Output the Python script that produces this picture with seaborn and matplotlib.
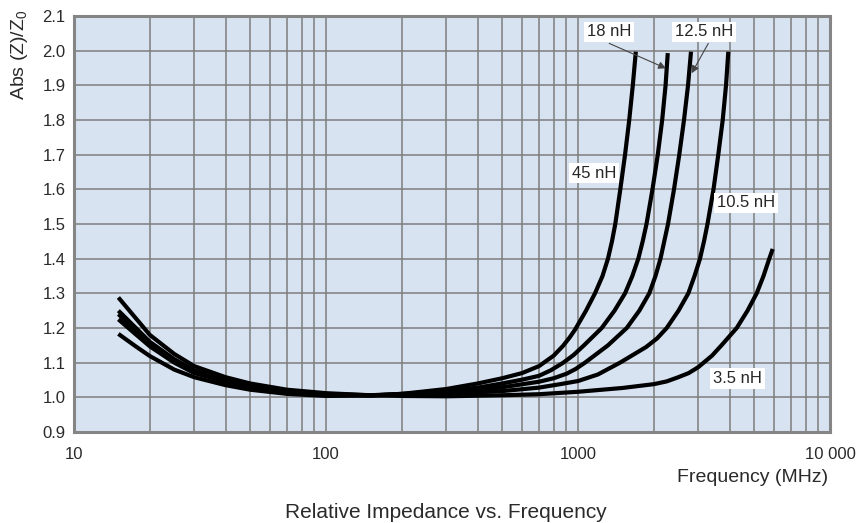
import numpy as np
import pandas as pd
import seaborn as sns
import matplotlib
matplotlib.use("Agg")
import matplotlib.pyplot as plt
from matplotlib.ticker import FixedLocator, LogLocator, NullFormatter

# -----------------------------------------------------
# data (MHz, |Z|/Z0)
# -----------------------------------------------------

freq_45 = [15, 17.5, 20, 25, 30, 40, 50, 70, 100, 150, 200, 300, 400, 500, 600, 700, 800,
           871, 925, 973, 1076, 1168, 1251, 1315, 1364, 1406, 1472, 1537, 1597, 1650, 1696]
z_45 = [1.183, 1.148, 1.119, 1.080, 1.058, 1.035, 1.022, 1.010, 1.004, 1.005, 1.010, 1.024,
        1.040, 1.055, 1.070, 1.090, 1.120, 1.148, 1.172, 1.195, 1.250, 1.300, 1.350, 1.400,
        1.450, 1.500, 1.600, 1.700, 1.800, 1.900, 1.997]

freq_18 = [15, 17.5, 20, 25, 30, 40, 50, 70, 100, 150, 200, 300, 400, 500, 600, 700, 780,
           874, 960, 1056, 1242, 1396, 1537, 1643, 1735, 1806, 1870, 1975, 2073, 2158, 2226,
           2271]
z_18 = [1.225, 1.183, 1.147, 1.100, 1.070, 1.045, 1.029, 1.014, 1.007, 1.006, 1.010, 1.018,
        1.028, 1.040, 1.051, 1.062, 1.078, 1.100, 1.122, 1.150, 1.200, 1.250, 1.300, 1.350,
        1.400, 1.450, 1.500, 1.600, 1.700, 1.800, 1.900, 1.993]

freq_12 = [15, 17.5, 20, 25, 30, 40, 50, 70, 100, 150, 200, 300, 400, 500, 700, 800, 900,
           980, 1066, 1315, 1561, 1751, 1918, 2030, 2125, 2276, 2404, 2523, 2634, 2733, 2808]
z_12 = [1.240, 1.194, 1.155, 1.106, 1.075, 1.048, 1.032, 1.016, 1.008, 1.006, 1.008, 1.013,
        1.020, 1.029, 1.045, 1.055, 1.068, 1.082, 1.100, 1.150, 1.200, 1.250, 1.300, 1.350,
        1.400, 1.500, 1.600, 1.700, 1.800, 1.900, 1.997]

freq_10 = [15, 17.5, 20, 25, 30, 40, 50, 70, 100, 150, 200, 300, 500, 700, 850, 1000, 1200,
           1468, 1862, 2060, 2249, 2505, 2740, 2900, 3049, 3162, 3265, 3449, 3603, 3752, 3867,
           3949]
z_10 = [1.250, 1.202, 1.160, 1.110, 1.078, 1.050, 1.034, 1.018, 1.009, 1.006, 1.007, 1.010,
        1.018, 1.028, 1.038, 1.047, 1.066, 1.100, 1.145, 1.170, 1.200, 1.250, 1.300, 1.350,
        1.400, 1.450, 1.500, 1.600, 1.700, 1.800, 1.900, 1.997]

freq_3 = [15, 17.5, 20, 25, 30, 40, 50, 70, 100, 150, 200, 300, 500, 700, 1000, 1500, 2000,
          2250, 2500, 2750, 3000, 3400, 3710, 4264, 4706, 5118, 5446, 5742, 5924]
z_3 = [1.288, 1.230, 1.180, 1.125, 1.090, 1.058, 1.040, 1.022, 1.012, 1.006, 1.004, 1.003,
       1.006, 1.009, 1.016, 1.027, 1.038, 1.046, 1.058, 1.070, 1.087, 1.120, 1.150, 1.200,
       1.250, 1.300, 1.350, 1.400, 1.428]

curve_names = ["45 nH", "18 nH", "12.5 nH", "10.5 nH", "3.5 nH"]
x_ticks = [10, 100, 1000, 10000]
x_tick_labels = ["10", "100", "1000", "10 000"]
y_ticks = [0.9, 1.0, 1.1, 1.2, 1.3, 1.4, 1.5, 1.6, 1.7, 1.8, 1.9, 2.0, 2.1]

frames = []
for name, f, z in zip(curve_names,
                      [freq_45, freq_18, freq_12, freq_10, freq_3],
                      [z_45, z_18, z_12, z_10, z_3]):
    frames.append(pd.DataFrame({"freq": f, "z": z, "curve": name}))
df = pd.concat(frames, ignore_index=True)

# -----------------------------------------------------
# figure
# -----------------------------------------------------

sns.set_style("white")
plt.rcParams["font.family"] = ["Liberation Sans", "DejaVu Sans"]
plt.rcParams["mathtext.fontset"] = "custom"
plt.rcParams["mathtext.rm"] = "Liberation Sans"
plt.rcParams["mathtext.it"] = "Liberation Sans"

fig = plt.figure(figsize=(8.58, 5.23), dpi=100)
ax = fig.add_axes([74 / 858, 1 - 432 / 523, 756 / 858, 416 / 523])
ax.set_facecolor("#d8e3f2")

sns.lineplot(data=df, x="freq", y="z", units="curve", estimator=None,
             color="black", lw=3, legend=False, ax=ax, zorder=3,
             solid_joinstyle="round", solid_capstyle="butt")

ax.set_xscale("log")
ax.set_xlim(10, 10000)
ax.set_ylim(0.9, 2.1)

ax.xaxis.set_major_locator(FixedLocator(x_ticks))
ax.set_xticklabels(x_tick_labels)
ax.xaxis.set_minor_locator(LogLocator(base=10, subs=np.arange(2, 10)))
ax.xaxis.set_minor_formatter(NullFormatter())
ax.set_yticks(y_ticks)
ax.set_yticklabels([f"{v:.1f}" for v in y_ticks])

ax.grid(True, which="both", axis="x", color="#7d7d7d", lw=1.1)
ax.grid(True, which="major", axis="y", color="#7d7d7d", lw=1.1)
ax.set_axisbelow(True)

ax.tick_params(axis="both", which="both", length=0, labelsize=12, colors="#2a2a2a")
ax.tick_params(axis="x", pad=11)
ax.tick_params(axis="y", pad=6)

for s in ax.spines.values():
    s.set_color("#858585")
    s.set_linewidth(2.2)

ax.set_xlabel("")
ax.set_ylabel("")

# labels on the curves
box = dict(facecolor="white", edgecolor="none", pad=2)
ax.text(1327, 2.054, "18 nH", fontsize=12, ha="center", va="center", bbox=box, zorder=5)
ax.text(3162, 2.054, "12.5 nH", fontsize=12, ha="center", va="center", bbox=box, zorder=5)
ax.text(1157, 1.647, "45 nH", fontsize=12, ha="center", va="center", bbox=box, zorder=5)
ax.text(4642, 1.561, "10.5 nH", fontsize=12, ha="center", va="center", bbox=box, zorder=5)
ax.text(4295, 1.054, "3.5 nH", fontsize=12, ha="center", va="center", bbox=box, zorder=5)

arrow = dict(arrowstyle="-|>", color="#444444", lw=0.8, mutation_scale=11,
             shrinkA=0, shrinkB=0)
ax.annotate("", xy=(2234, 1.949), xytext=(1330, 2.021), arrowprops=arrow, zorder=6)
ax.annotate("", xy=(2825, 1.935), xytext=(3289, 2.021), arrowprops=arrow, zorder=6)

fig.text(20 / 858, 1 - 10 / 523, "Abs (Z)/Z$_0$", rotation=90, ha="center", va="top",
         fontsize=14, color="#2a2a2a")
fig.text(828 / 858, 1 - 477 / 523, "Frequency (MHz)", ha="right", va="center",
         fontsize=14, color="#2a2a2a")
fig.text(446 / 858, 1 - 512 / 523, "Relative Impedance vs. Frequency", ha="center",
         va="center", fontsize=15, color="#2a2a2a")

fig.savefig("out.png", dpi=100)
